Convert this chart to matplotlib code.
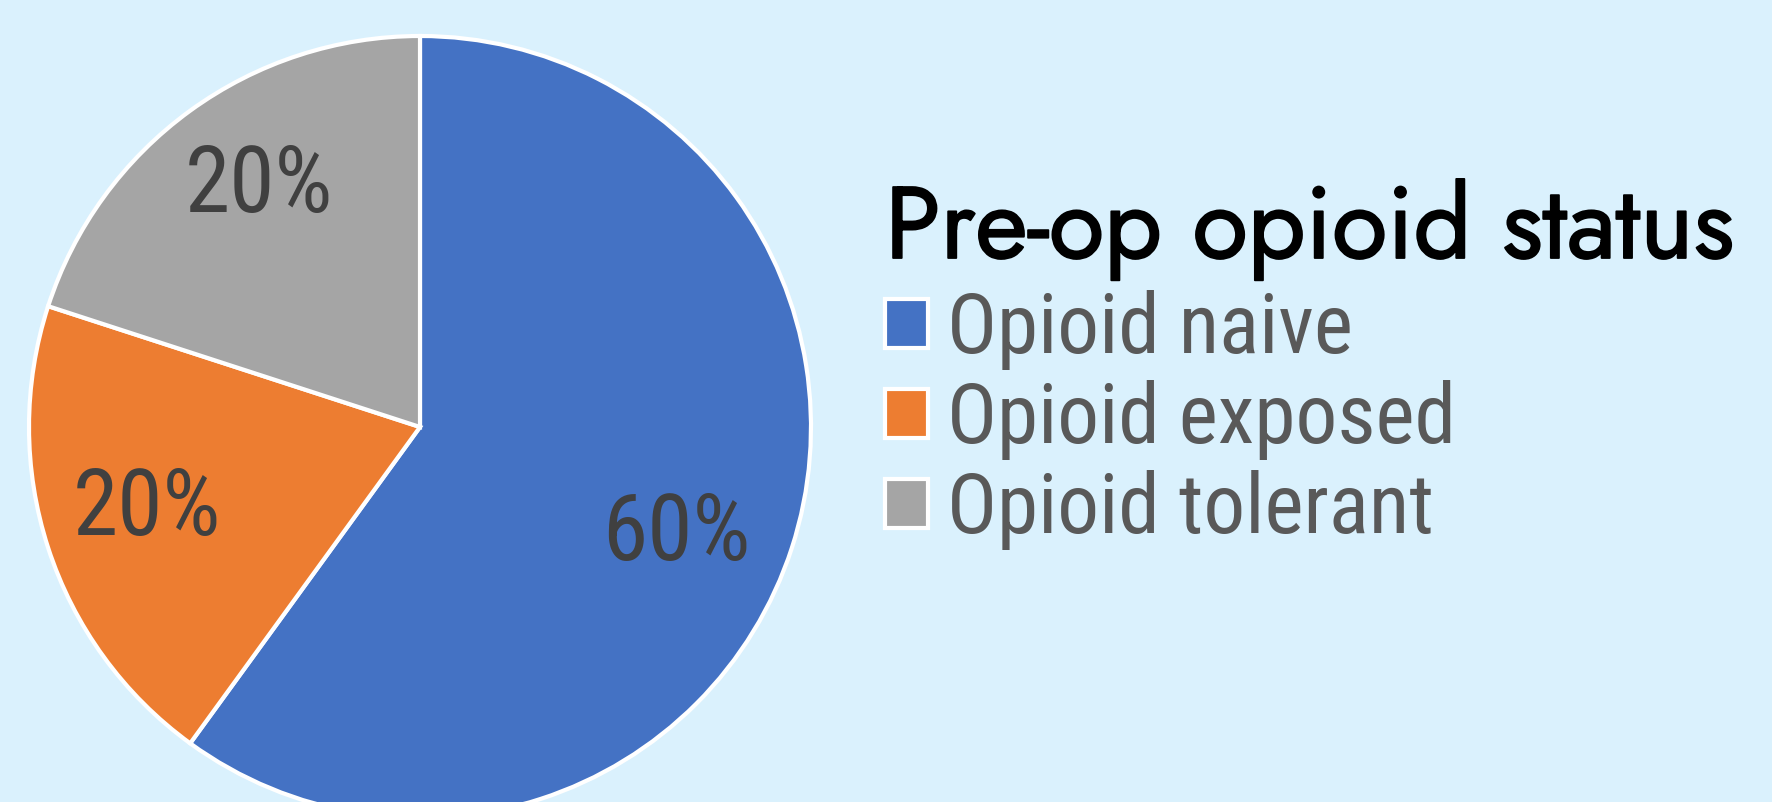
import matplotlib
matplotlib.use('Agg')
import matplotlib.pyplot as plt
import matplotlib.patheffects as pe
import numpy as np

# data
categories = ['Opioid naive', 'Opioid exposed', 'Opioid tolerant']
shares = [60, 20, 20]
colors = ['#4472C4', '#ED7D31', '#A5A5A5']
legend_title = 'Pre-op opioid status'

BG = '#DAF1FD'
NARROW = ['Roboto Condensed', 'Carlito', 'DejaVu Sans']
GEOM = ['Jost', 'DejaVu Sans']

CX, CY, R = 420, 375, 391

fig = plt.figure(figsize=(17.72, 8.02), dpi=100, facecolor=BG)
ax = fig.add_axes([0, 0, 1, 1])
ax.set_facecolor(BG)

wedges, _, autotexts = ax.pie(
    shares, colors=colors, startangle=90, counterclock=False,
    center=(CX, CY), radius=R, autopct='%1.0f%%', pctdistance=0.73,
    wedgeprops=dict(edgecolor='white', linewidth=3),
    textprops=dict(fontsize=66, color='#404040', family=NARROW))

# nudge the percentage labels a little, the way the original sits them
label_r = [0.71, 0.73, 0.74]
label_turn = [-4.7, -1.3, -2.3]
for w, t, rf, turn in zip(wedges, autotexts, label_r, label_turn):
    ang = np.deg2rad((w.theta1 + w.theta2) / 2 + turn)
    t.set_position((CX + rf * R * np.cos(ang), CY + rf * R * np.sin(ang)))

ax.set_xlim(0, 1772)
ax.set_ylim(0, 802)
ax.set_aspect('equal')
ax.axis('off')

leg = ax.legend(wedges, categories, loc='upper left',
                bbox_to_anchor=(885 / 1772, 1 - 178 / 802),
                bbox_transform=fig.transFigure,
                frameon=False, borderpad=0, borderaxespad=0,
                prop=dict(family=NARROW, size=60),
                labelcolor='#595959',
                title=legend_title,
                title_fontproperties=dict(family=GEOM, size=73, weight='bold'),
                alignment='left',
                handlelength=0.52, handleheight=0.52, handletextpad=0.22,
                labelspacing=0.12)
leg.get_title().set_color('black')
# Jost only ships one weight here; thicken the strokes a touch
leg.get_title().set_path_effects([pe.withStroke(linewidth=1.3, foreground='black')])

fig.savefig('out.png', dpi=100, facecolor=BG)
